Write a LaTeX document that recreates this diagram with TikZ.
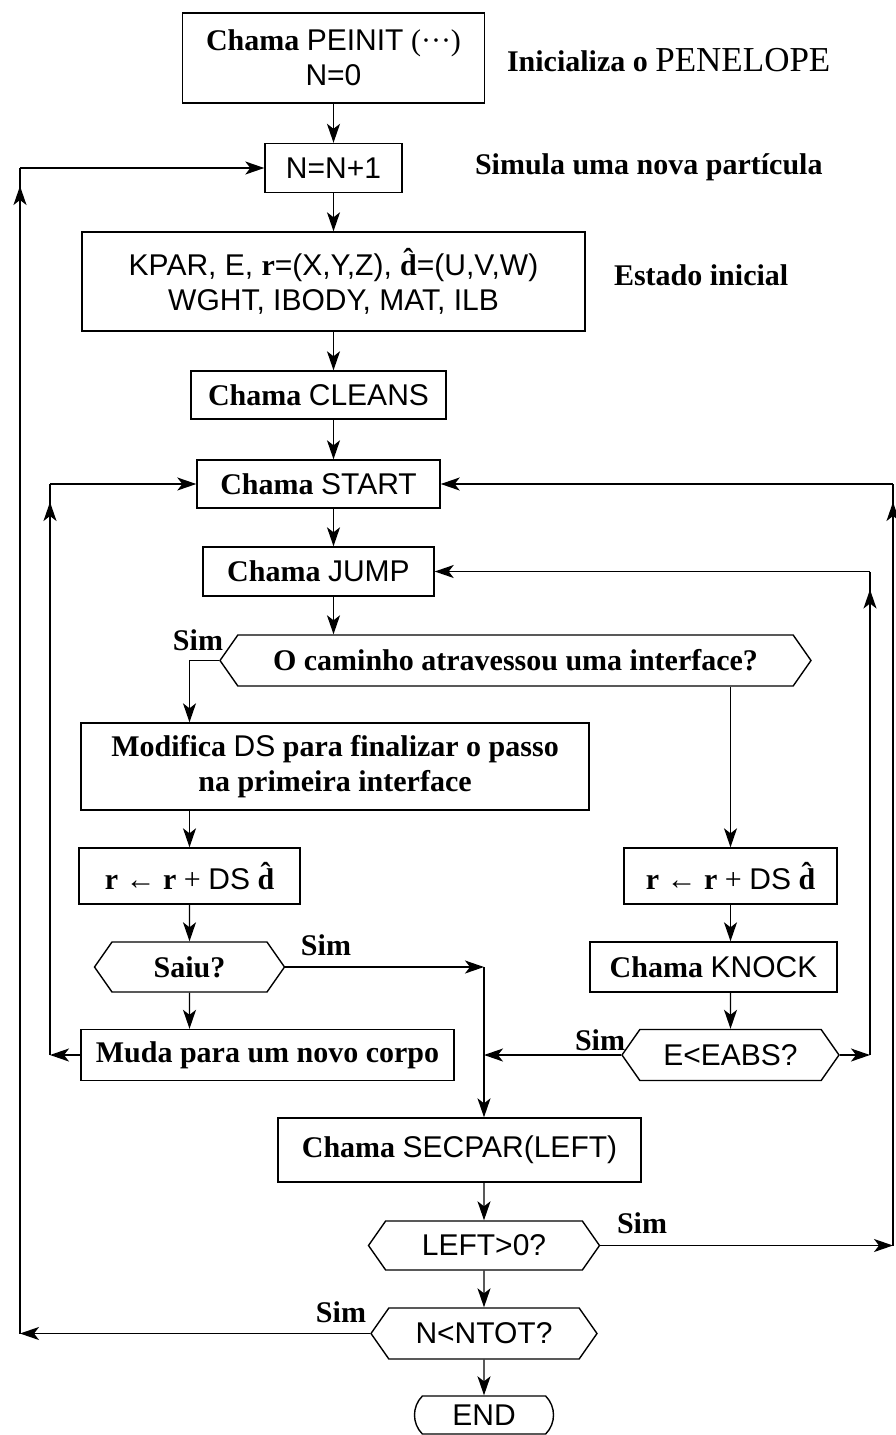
\documentclass[tikz,border=0pt]{standalone}
\usepackage{fontspec}
\setmainfont{Liberation Serif}
\setsansfont{Liberation Sans}
\usetikzlibrary{arrows.meta,shapes.symbols,shapes.misc,decorations.markings}

\newcommand{\sname}[1]{{\normalfont\sffamily #1}}
\newcommand{\rstep}{r {\normalfont ←} r {\normalfont +} \sname{DS} \^{d}}

\begin{document}
\begin{tikzpicture}[x=1pt,y=-1pt,
                    line width=1.4pt,
                    every node/.style={font=\fontsize{30}{35}\selectfont\bfseries},
                    box/.style={draw,rectangle,align=center,inner sep=0pt},
                    hexa/.style={draw,signal,signal to=west and east,signal pointer angle=110,inner sep=0pt},
                    flow/.style={-{Stealth[length=19pt,width=13pt,inset=5pt]}},
                    tipnear/.style={postaction={decorate},
                      decoration={markings,mark=at position -18pt with {\arrow{Stealth[length=19pt,width=13pt,inset=5pt]}}}}]
  \useasboundingbox (0,0) rectangle (896,1435);
  % main column
  \node[box,minimum width=302pt,minimum height=90pt] (init) at (333.5,58) {Chama \sname{PEINIT} \textmd{(···)}\\\sname{N=0}};
  \node[anchor=west] (initnote) at (503,60) {Inicializa o {\normalfont\fontsize{35}{35}\selectfont PENELOPE}};
  \node[box,minimum width=137pt,minimum height=49pt] (inc) at (333.5,168) {\sname{N=N+1}};
  \node[anchor=west] (incnote) at (471,167) {Simula uma nova partícula};
  \node[box,minimum width=503pt,minimum height=99pt] (state) at (333.5,281.5)
    {\sname{KPAR, E, }r\sname{=(X,Y,Z), }\^{d}\sname{=(U,V,W)}\\\sname{WGHT, IBODY, MAT, ILB}};
  \node[anchor=west] (statenote) at (610,275) {Estado inicial};
  \node[box,minimum width=255pt,minimum height=48pt] (cleans) at (318.5,395) {Chama \sname{CLEANS}};
  \node[box,minimum width=243pt,minimum height=48pt] (start) at (318.5,484) {Chama \sname{START}};
  \node[box,minimum width=231pt,minimum height=49pt] (jump) at (318.5,571.5) {Chama \sname{JUMP}};
  \node[hexa,minimum width=591pt,minimum height=51pt] (cross) at (515.5,660.5) {O caminho atravessou uma interface?};
  % left branch
  \node[box,minimum width=508pt,minimum height=87pt] (modif) at (335,766.5) {Modifica \sname{DS} para finalizar o passo\\na primeira interface};
  \node[box,minimum width=221pt,minimum height=56pt] (rleft) at (189.5,876) {\rstep};
  \node[hexa,minimum width=190pt,minimum height=50pt] (saiu) at (189.5,967) {Saiu?};
  \node[box,minimum width=373pt,minimum height=51pt] (muda) at (267.5,1055) {Muda para um novo corpo};
  % right branch
  \node[box,minimum width=213pt,minimum height=56pt] (rright) at (730.5,876) {\rstep};
  \node[box,minimum width=247pt,minimum height=50pt] (knock) at (713.5,967) {Chama \sname{KNOCK}};
  \node[hexa,minimum width=217pt,minimum height=51pt] (eabs) at (730.5,1055) {\sname{E<EABS?}};
  % bottom
  \node[box,minimum width=363pt,minimum height=64pt] (secpar) at (459.5,1150) {Chama \sname{SECPAR(LEFT)}};
  \node[hexa,minimum width=231pt,minimum height=49pt] (leftq) at (484,1245.5) {\sname{LEFT>0?}};
  \node[hexa,minimum width=226pt,minimum height=51pt] (ntot) at (484,1333.5) {\sname{N<NTOT?}};
  \node[draw,rounded rectangle,rounded rectangle arc length=90,minimum width=139pt,
        minimum height=38pt,inner sep=0pt] (endn) at (484,1415) {\sname{END}};
  % yes labels
  \node (sim1) at (198,640) {Sim};
  \node (sim2) at (326,945) {Sim};
  \node (sim3) at (600,1040) {Sim};
  \node (sim4) at (642,1223) {Sim};
  \node (sim5) at (341,1312) {Sim};
  % corners of the loops
  \coordinate (jn1) at (484,967);
  \coordinate (jn2) at (484,1055);
  \coordinate (lb1) at (50,1055);
  \coordinate (lt1) at (50,484);
  \coordinate (rb1) at (870,1055);
  \coordinate (rt1) at (870,571.5);
  \coordinate (rb2) at (893,1245.5);
  \coordinate (rt2) at (893,484);
  \coordinate (lb0) at (20,1333.5);
  \coordinate (lt0) at (20,168);

  \draw[flow] (init) -- (inc);
  \draw[flow] (inc) -- (state);
  \draw[flow] (state.south) -- (state.south |- cleans.north);
  \draw[flow] (cleans.south -| state) -- (start.north -| state);
  \draw[flow] (start.south -| state) -- (jump.north -| state);
  \draw[flow] (jump.south -| state) -- (cross.north -| state);
  \draw[flow] (cross.west) -| (modif.north -| rleft);
  \draw[flow] (modif.south -| rleft) -- (rleft);
  \draw[flow] (rleft) -- (saiu);
  \draw[flow] (saiu) -- (saiu |- muda.north);
  \draw[flow] (saiu.east) -- (jn1);
  \draw[flow] (jn1) -- (jn1 |- secpar.north);
  \draw[flow] (cross.south -| rright) -- (rright);
  \draw[flow] (rright.south) -- (rright.south |- knock.north);
  \draw[flow] (knock.south -| rright) -- (eabs);
  \draw[flow] (eabs.west) -- (jn2);
  \draw[flow] (muda.west) -- (lb1);
  \draw[tipnear] (lb1) -- (lt1);
  \draw[flow] (lt1) -- (start.west);
  \draw[flow] (eabs.east) -- (rb1);
  \draw[tipnear] (rb1) -- (rt1);
  \draw[flow] (rt1) -- (jump.east);
  \draw[flow] (secpar.south -| jn1) -- (leftq);
  \draw[flow] (leftq) -- (ntot);
  \draw[flow] (ntot) -- (endn);
  \draw[flow] (leftq.east) -- (rb2);
  \draw[tipnear] (rb2) -- (rt2);
  \draw[flow] (rt2) -- (start.east);
  \draw[flow] (ntot.west) -- (lb0);
  \draw[tipnear] (lb0) -- (lt0);
  \draw[flow] (lt0) -- (inc.west);
\end{tikzpicture}
\end{document}
